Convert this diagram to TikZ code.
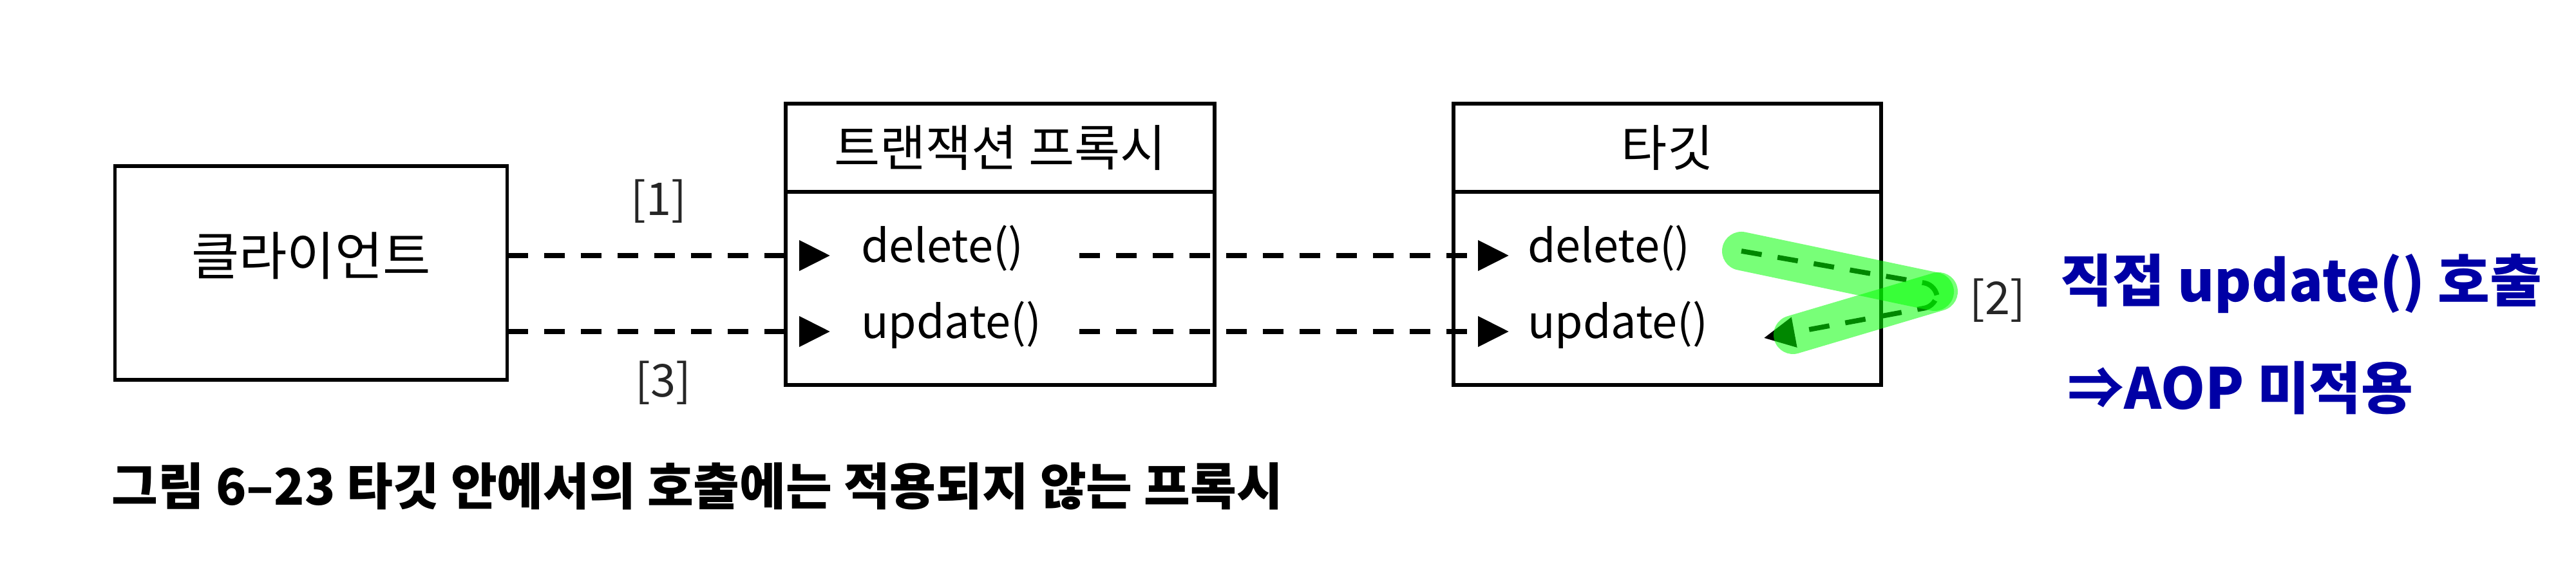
\documentclass[tikz,border=0pt]{standalone}
\usepackage{fontspec}
\setmainfont{Noto Sans CJK KR}
\usetikzlibrary{shapes,arrows.meta,positioning}
\definecolor{penblue}{RGB}{0,0,165}
\definecolor{marker}{RGB}{0,255,0}

\begin{document}
\begin{tikzpicture}[auto, line width=1.7pt]
  \tikzstyle{block} = [rectangle, draw, inner sep=0pt, outer sep=0pt,
    font=\fontsize{22}{26}\selectfont]
  \tikzstyle{heading} = [font=\fontsize{23}{27}\selectfont]
  \tikzstyle{method} = [anchor=west, inner ysep=0pt, text height=1.6ex, text depth=.45ex,
    font=\fontsize{20}{24}\selectfont]
  \tikzstyle{tag} = [text=black!85, font=\fontsize{20}{24}\selectfont]
  \tikzstyle{note} = [anchor=west, text=penblue, font=\fontsize{25}{30}\selectfont\bfseries]
  \tikzstyle{line} = [draw, line width=2.2pt, dash pattern=on 3.2mm off 2.5mm,
    -{Triangle[length=4.8mm, width=4.6mm]}]
  \tikzstyle{highlight} = [draw=marker, opacity=.53, line width=6mm, line cap=round]

  \useasboundingbox (0,0) rectangle (40,8.73);

  % Place nodes
  \node [block, minimum width=6.09cm, minimum height=3.32cm] (client) at (4.83,4.49) {};

  \node [block, minimum width=6.66cm, minimum height=1.37cm] (ptitle) at (15.53,6.435) {트랜잭션 프록시};
  \node [block, minimum width=6.66cm, minimum height=3cm, below=0pt of ptitle] (pbody) {};

  \node [block, minimum width=6.64cm, minimum height=1.37cm] (ttitle) at (25.89,6.435) {타깃};
  \node [block, minimum width=6.64cm, minimum height=3cm, below=0pt of ttitle] (tbody) {};

  \node [method, inner xsep=4.5mm] (pdel) at (12.89,4.76) {delete()};
  \node [method, inner xsep=4.5mm] (pupd) at (12.89,3.58) {update()};
  \node [method, inner xsep=2.6mm] (tdel) at (23.43,4.76) {delete()};
  \node [method, inner xsep=2.6mm] (tupd) at (23.43,3.58) {update()};

  \node [heading] (clientname) at (client.center |- pdel) {클라이언트};

  \node [tag] (one) at (10.23,5.60) {[1]};
  \node [tag] (three) at (10.30,2.78) {[3]};
  \node [tag] (two) at (31.02,4.06) {[2]};

  \node [note] (noteup) at (31.85,4.32) {직접 update() 호출};
  \node [note] (notedown) at (31.96,2.70) {⇒AOP 미적용};

  \node [anchor=west, inner sep=0pt, font=\fontsize{22.2}{26}\selectfont\bfseries] (caption)
    at (1.71,1.18) {그림 6–23 타깃 안에서의 호출에는 적용되지 않는 프록시};

  \coordinate (selfout) at (27.04,4.83);
  \coordinate (turnin) at (30.08,4.30);
  \coordinate (turnout) at (30.08,3.98);
  \coordinate (selfin) at (27.39,3.48);

  % Draw edges
  \path [line] (client.east |- pdel) -- (pdel.west);
  \path [line] (client.east |- pupd) -- (pupd.west);
  \path [line, shorten <=3.8mm] (pdel.east) -- (tdel.west);
  \path [line, shorten <=3.8mm] (pdel.east |- pupd) -- (tupd.west);
  \path [line, rounded corners=2mm] (selfout) -- (turnin) -- (turnout) -- (selfin);

  % marker over the self call
  \draw [highlight] (selfout) -- (30.04,4.20);
  \draw [highlight] (30.10,4.20) -- (27.84,3.53);

\end{tikzpicture}
\end{document}
